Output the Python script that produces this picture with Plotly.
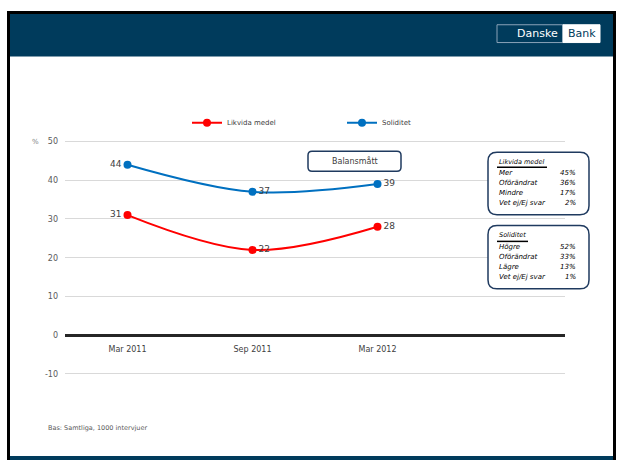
import plotly.graph_objects as go

# Survey waves and results
periods = ["Mar 2011", "Sep 2011", "Mar 2012"]
likvida = [31, 22, 28]
soliditet = [44, 37, 39]
y_ticks = [-10, 0, 10, 20, 30, 40, 50]
y_tick_labels = ["-10", "0", "10", "20", "30", "40", "50"]

likvida_rows = [("Mer", "45%"), ("Oförändrat", "36%"), ("Mindre", "17%"), ("Vet ej/Ej svar", "2%")]
soliditet_rows = [("Högre", "52%"), ("Oförändrat", "33%"), ("Lägre", "13%"), ("Vet ej/Ej svar", "1%")]

W, H = 620, 463
FONT = "DejaVu Sans"
NAVY = "#003b5c"
BOX = "#1f3a5f"


def px(x):
    return x / W


def py(y):
    return 1 - y / H


def rect(x0, y0, x1, y1, **kw):
    return dict(type="rect", xref="paper", yref="paper",
                x0=px(x0), x1=px(x1), y0=py(y1), y1=py(y0), **kw)


def rounded(x0, y0, x1, y1, r, **kw):
    rx, ry = r / W, r / H
    a0, a1, b0, b1 = px(x0), px(x1), py(y1), py(y0)
    path = (f"M {a0+rx},{b1} L {a1-rx},{b1} Q {a1},{b1} {a1},{b1-ry} "
            f"L {a1},{b0+ry} Q {a1},{b0} {a1-rx},{b0} L {a0+rx},{b0} "
            f"Q {a0},{b0} {a0},{b0+ry} L {a0},{b1-ry} Q {a0},{b1} {a0+rx},{b1} Z")
    return dict(type="path", xref="paper", yref="paper", path=path, **kw)


def text(x, y, s, size=7, color="#404040", xanchor="left", **kw):
    return dict(x=px(x), y=py(y), xref="paper", yref="paper", text=s, showarrow=False,
                xanchor=xanchor, yanchor="middle",
                font=dict(family=FONT, size=size, color=color), **kw)


fig = go.Figure()
fig.add_trace(go.Scatter(
    x=list(range(len(periods))), y=likvida, name="Likvida medel",
    mode="lines+markers+text", line=dict(color="#ff0000", width=2, shape="spline"),
    marker=dict(size=8, color="#ff0000"),
    text=[str(v) for v in likvida],
    textposition=["middle left", "middle right", "middle right"],
    textfont=dict(family=FONT, size=9, color="#404040"),
))
fig.add_trace(go.Scatter(
    x=list(range(len(periods))), y=soliditet, name="Soliditet",
    mode="lines+markers+text", line=dict(color="#0070c0", width=2, shape="spline"),
    marker=dict(size=8, color="#0070c0"),
    text=[str(v) for v in soliditet],
    textposition=["middle left", "middle right", "middle right"],
    textfont=dict(family=FONT, size=9, color="#404040"),
))

shapes = [
    # slide frame and header band
    rect(10, 12, 613, 55, fillcolor=NAVY, line=dict(width=0), layer="below"),
    rect(10, 459, 613, 463, fillcolor=NAVY, line=dict(width=0), layer="below"),
    dict(type="line", xref="paper", yref="paper", x0=px(8.5), x1=px(8.5), y0=py(10), y1=py(463),
         line=dict(color="#000000", width=3)),
    dict(type="line", xref="paper", yref="paper", x0=px(7), x1=px(616), y0=py(10.5), y1=py(10.5),
         line=dict(color="#000000", width=3)),
    dict(type="line", xref="paper", yref="paper", x0=px(614.5), x1=px(614.5), y0=py(10), y1=py(463),
         line=dict(color="#000000", width=3)),
    # logo
    rect(497, 23, 563, 41, line=dict(color="#8aa3b8", width=1)),
    rect(563, 23, 600, 41, fillcolor="#ffffff", line=dict(color="#ffffff", width=1)),
    # boxes
    rounded(308, 151, 401, 171, 4, fillcolor="#ffffff", line=dict(color=BOX, width=1.5)),
    rounded(488, 152, 589, 215, 9, fillcolor="#ffffff", line=dict(color=BOX, width=1.5)),
    rounded(488, 226, 589, 290, 9, fillcolor="#ffffff", line=dict(color=BOX, width=1.5)),
    # underlines under box titles
    dict(type="line", xref="paper", yref="paper", x0=px(497), x1=px(547), y0=py(167), y1=py(167),
         line=dict(color="#000000", width=1.5)),
    dict(type="line", xref="paper", yref="paper", x0=px(497), x1=px(528), y0=py(242), y1=py(242),
         line=dict(color="#000000", width=1.5)),
]

annotations = [
    text(560, 32, "Danske", size=11, color="#ffffff", xanchor="right"),
    text(581.5, 32, "Bank", size=11, color=NAVY, xanchor="center"),
    text(354.5, 161, "Balansmått", size=8, color="#404040", xanchor="center"),
    text(35, 142, "%", size=7, color="#808080", xanchor="center"),
    text(46, 431, "Bas: Samtliga, 1000 intervjuer", size=6.5, color="#595959"),
    text(497, 162, "<i>Likvida medel</i>", size=6.5, color="#000000"),
    text(497, 236, "<i>Soliditet</i>", size=6.5, color="#000000"),
]
for i, (lab, val) in enumerate(likvida_rows):
    yy = 173 + i * 10
    annotations.append(text(497, yy, f"<i>{lab}</i>", size=7, color="#000000"))
    annotations.append(text(578, yy, f"<i>{val}</i>", size=7, color="#000000", xanchor="right"))
for i, (lab, val) in enumerate(soliditet_rows):
    yy = 248 + i * 10
    annotations.append(text(497, yy, f"<i>{lab}</i>", size=7, color="#000000"))
    annotations.append(text(578, yy, f"<i>{val}</i>", size=7, color="#000000", xanchor="right"))

# 3.9167 px per unit; pad the value range by half a unit so the edge grid lines show
pad_px = 0.5 * 235 / 60

fig.update_layout(
    width=W, height=H,
    margin=dict(l=0, r=0, t=0, b=0),
    paper_bgcolor="#ffffff", plot_bgcolor="#ffffff",
    showlegend=True,
    legend=dict(orientation="h", x=px(187), y=py(122), xanchor="left", yanchor="middle",
                entrywidth=110, entrywidthmode="pixels", itemwidth=30,
                font=dict(family=FONT, size=7, color="#404040"), bgcolor="rgba(0,0,0,0)"),
    xaxis=dict(domain=[px(65), px(565)], range=[-0.5, 3.5],
               tickvals=list(range(len(periods))), ticktext=periods,
               showgrid=False, zeroline=False, showline=False, ticks="",
               anchor="free", position=py(337), ticklabelstandoff=8,
               tickfont=dict(family=FONT, size=8, color="#404040")),
    yaxis=dict(domain=[py(376 + pad_px), py(141 - pad_px)], range=[-10.5, 50.5],
               tickvals=y_ticks, ticktext=y_tick_labels,
               showgrid=True, gridcolor="#d9d9d9", gridwidth=1,
               zeroline=True, zerolinecolor="#262626", zerolinewidth=2.5,
               showline=False, ticks="", ticklabelstandoff=6,
               tickfont=dict(family=FONT, size=8, color="#595959")),
    shapes=shapes,
    annotations=annotations,
)

fig.write_html("out.html")
